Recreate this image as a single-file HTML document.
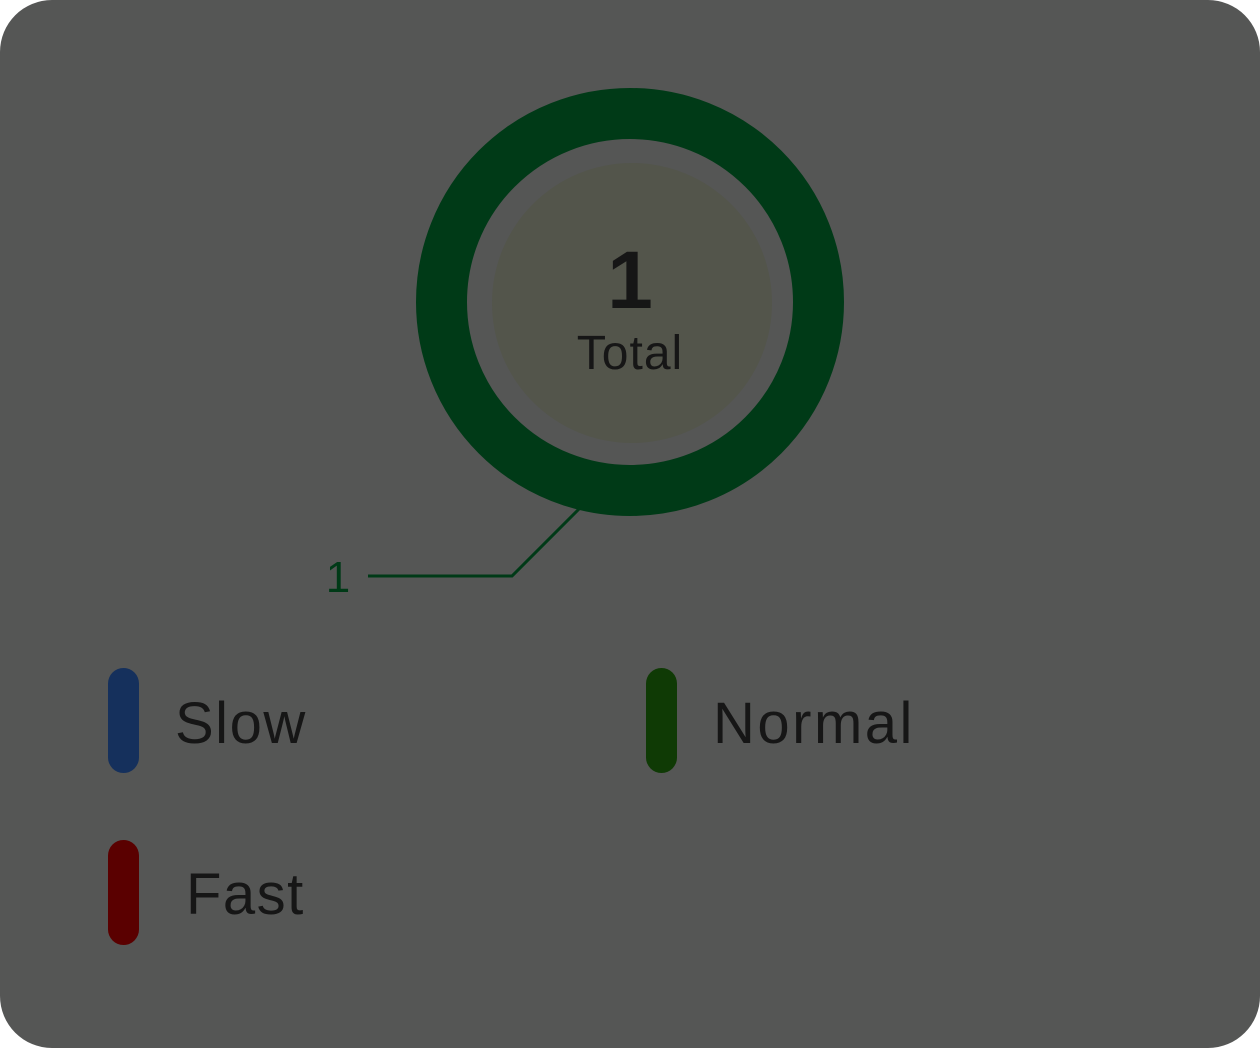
<!DOCTYPE html>
<html><head><meta charset="utf-8"><style>
html,body{margin:0;padding:0;background:#fff;}
#card{position:absolute;left:0;top:0;width:1260px;height:1048px;background:#555655;border-radius:52px;overflow:hidden;font-family:"Liberation Sans",Roboto,sans-serif;}
.pill{position:absolute;width:31px;height:105px;border-radius:16px;}
.lt{position:absolute;font-size:58px;color:#161616;line-height:1;letter-spacing:1.5px;}
</style></head><body>
<div id="card">
<svg width="1260" height="1048" style="position:absolute;left:0;top:0">
<g id="donut"></g>
<circle cx="632" cy="303" r="140" fill="#53554b"/>
<text x="630" y="308" text-anchor="middle" font-family="Liberation Sans, sans-serif" font-weight="bold" font-size="82" fill="#161616">1</text>
<text x="630" y="369" text-anchor="middle" font-family="Liberation Sans, sans-serif" font-size="48" fill="#161616" letter-spacing="1">Total</text>
<polyline points="580,508 512,576 368,576" fill="none" stroke="#003a17" stroke-width="3"/>
<text id="slabel" x="338" y="592" text-anchor="middle" font-family="Liberation Sans, sans-serif" font-size="44" fill="#003a17">1</text>
</svg>
<div class="pill" style="left:108px;top:668px;background:#15305c"></div>
<div class="lt" style="left:175px;top:695px">Slow</div>
<div class="pill" style="left:646px;top:668px;background:#0f3a05"></div>
<div class="lt" style="left:713px;top:695px;letter-spacing:2.5px">Normal</div>
<div class="pill" style="left:108px;top:840px;background:#5a0000"></div>
<div class="lt" style="left:186px;top:866px">Fast</div>
</div>
<script>
const categories=["Slow","Normal","Fast"];
const values=[0,1,0];
const colors=["#15305c","#003a17","#5a0000"];
const g=document.getElementById('donut');
const cx=630,cy=302,R=214,r=163;
const total=values.reduce((a,b)=>a+b,0);
let a0=-Math.PI/2;
values.forEach((v,i)=>{
  if(!v)return;
  const frac=v/total;
  let el;
  if(frac>=0.9999){
    el=document.createElementNS('http://www.w3.org/2000/svg','circle');
    el.setAttribute('cx',cx);el.setAttribute('cy',cy);el.setAttribute('r',(R+r)/2);
    el.setAttribute('fill','none');el.setAttribute('stroke',colors[i]);el.setAttribute('stroke-width',R-r);
  }else{
    const a1=a0+frac*2*Math.PI,lg=frac>0.5?1:0;
    const p=(rad,a)=>[cx+rad*Math.cos(a),cy+rad*Math.sin(a)];
    const [x0,y0]=p(R,a0),[x1,y1]=p(R,a1),[x2,y2]=p(r,a1),[x3,y3]=p(r,a0);
    el=document.createElementNS('http://www.w3.org/2000/svg','path');
    el.setAttribute('d',`M${x0},${y0}A${R},${R} 0 ${lg} 1 ${x1},${y1}L${x2},${y2}A${r},${r} 0 ${lg} 0 ${x3},${y3}Z`);
    el.setAttribute('fill',colors[i]);
    a0=a1;
  }
  
  
  g.appendChild(el);
});
document.getElementById('slabel').textContent=values[1];
</script>
</body></html>
